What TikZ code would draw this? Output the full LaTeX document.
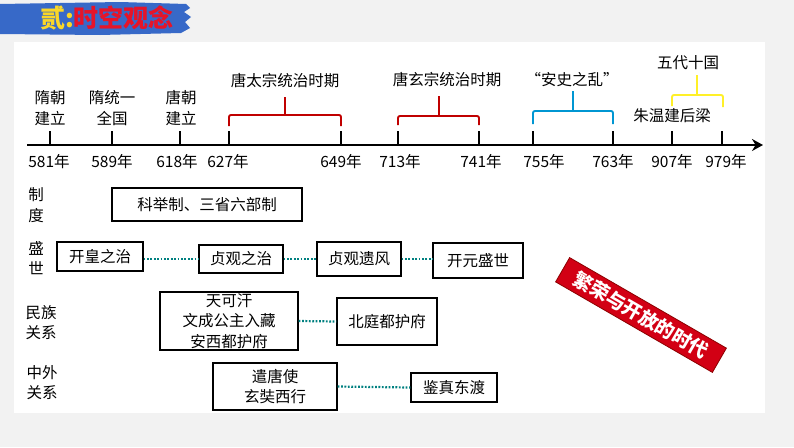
\documentclass[tikz,border=0pt]{standalone}
\usepackage{fontspec}
\setmainfont{Noto Sans CJK SC}
\usetikzlibrary{arrows.meta}
\definecolor{brRed}{RGB}{192,0,0}
\definecolor{brBlue}{RGB}{0,150,210}
\definecolor{brYellow}{RGB}{255,240,40}
\definecolor{dotTeal}{RGB}{0,128,128}
\definecolor{titleBlue}{RGB}{55,105,200}
\definecolor{titleRed}{RGB}{230,20,40}
\definecolor{titleYellow}{RGB}{250,215,40}
\definecolor{bannerRed}{RGB}{210,0,20}
\definecolor{paper}{RGB}{242,242,242}
\begin{document}
\begin{tikzpicture}[x=1pt,y=-1pt,
  txt/.style={font=\fontsize{15.5}{20.5}\selectfont, align=center, inner sep=0pt},
  box/.style={draw=black, line width=1.3pt, txt},
  tickmark/.style={line width=2.6pt},
  link/.style={dotTeal, line width=2.2pt, dash pattern=on 1.8pt off 1.6pt},
  bkt/.style={line width=1.9pt, rounded corners=2pt},
]
% background
\fill[paper] (0,0) rectangle (794,447);
\fill[white] (14,42) rectangle (765,413);
\useasboundingbox (0,0) rectangle (794,447);

% title brush
\fill[titleBlue] (0,4) -- (120,2) -- (186,4) -- (190,8) -- (184,12) -- (191,17) -- (185,22) -- (190,28) -- (181,33) -- (100,35) -- (0,34) -- cycle;
\node[anchor=west, inner sep=0pt, font=\fontsize{25}{25}\selectfont\bfseries] (title) at (40,18)
  {\textcolor{titleYellow}{贰:}\textcolor{titleRed}{时空观念}};

% axis
\coordinate (axS) at (27,145);
\coordinate (axE) at (763,145);
\draw[line width=2.8pt, -{Stealth[length=11pt,width=12pt]}] (axS) -- (axE);

% ticks and year labels
\foreach \yr/\tx/\lx in {581/50/49, 589/112/112, 618/180/177, 627/229/228, 649/341/341,
                         713/398/400, 741/479/481, 755/533/544, 763/613/613, 907/672/672, 979/722/726} {
  \coordinate (t\yr) at (\tx,145);
  \draw[tickmark] (t\yr) -- ++(0,-14);
  \node[txt] (y\yr) at (\lx,162) {\yr 年};
}

% labels above the axis
\node[txt] (suichao) at (50,108) {隋朝\\建立};
\node[txt] (suitongyi) at (112,108) {隋统一\\全国};
\node[txt] (tangchao) at (181,108) {唐朝\\建立};

% brackets
\draw[bkt, brRed] (229,126) -- (229,115) -- (341,115) -- (341,126);
\draw[bkt, brRed] (285,115) -- (285,97);
\node[txt] (taizong) at (285,81) {唐太宗统治时期};

\draw[bkt, brRed] (398,125) -- (398,116) -- (479,116) -- (479,125);
\draw[bkt, brRed] (439,116) -- (439,96);
\node[txt] (xuanzong) at (447,80) {唐玄宗统治时期};

\draw[bkt, brBlue] (533,124) -- (533,111) -- (613,111) -- (613,124);
\draw[bkt, brBlue] (573,111) -- (573,91);
\node[txt] (anshi) at (572,80) {“安史之乱”};

\draw[bkt, brYellow] (672,106) -- (672,95) -- (723,95) -- (723,107);
\draw[bkt, brYellow] (697,95) -- (697,75);
\node[txt] (wudai) at (688,63) {五代十国};
\node[txt] (zhuwen) at (672,116) {朱温建后梁};

% row labels
\node[txt] (lzhidu) at (36,205) {制\\度};
\node[txt] (lsheng) at (36,258) {盛\\世};
\node[txt] (lminzu) at (41,322.5) {民族\\关系};
\node[txt] (lzhongwai) at (42,382.5) {中外\\关系};

% boxes
\node[box, minimum width=190pt, minimum height=33pt] (zhidu) at (207,204.5) {科举制、三省六部制};
\node[box, minimum width=86pt, minimum height=29pt] (kaihuang) at (100,256.5) {开皇之治};
\node[box, minimum width=84pt, minimum height=28pt] (zhenguan) at (241,259) {贞观之治};
\node[box, minimum width=84pt, minimum height=34pt] (yifeng) at (359,259) {贞观遗风};
\node[box, minimum width=90pt, minimum height=35pt] (kaiyuan) at (478,260.5) {开元盛世};
\node[box, minimum width=138pt, minimum height=58pt] (tiankehan) at (229,321) {天可汗\\文成公主入藏\\安西都护府};
\node[box, minimum width=100pt, minimum height=47pt] (beiting) at (387,321.5) {北庭都护府};
\node[box, minimum width=124pt, minimum height=47pt] (qiantang) at (275,386.5) {遣唐使\\玄奘西行};
\node[box, minimum width=86pt, minimum height=29pt] (jianzhen) at (454,387.5) {鉴真东渡};

% dotted links
\draw[link] (kaihuang.east |- zhenguan.west) -- (zhenguan.west);
\draw[link] (zhenguan.east) -- (yifeng.west);
\draw[link] (yifeng.east) -- (kaiyuan.west |- yifeng.east);
\draw[link] (tiankehan.east) -- (beiting.west);
\draw[link] (qiantang.east) -- (jianzhen.west);

% banner
\node[fill=bannerRed, draw=red!55!black, line width=0.8pt, text=white, rotate=-30,
      minimum width=181pt, minimum height=28pt, inner sep=0pt,
      font=\fontsize{19}{19}\selectfont\bfseries] (banner) at (641,315) {繁荣与开放的时代};
\end{tikzpicture}
\end{document}
